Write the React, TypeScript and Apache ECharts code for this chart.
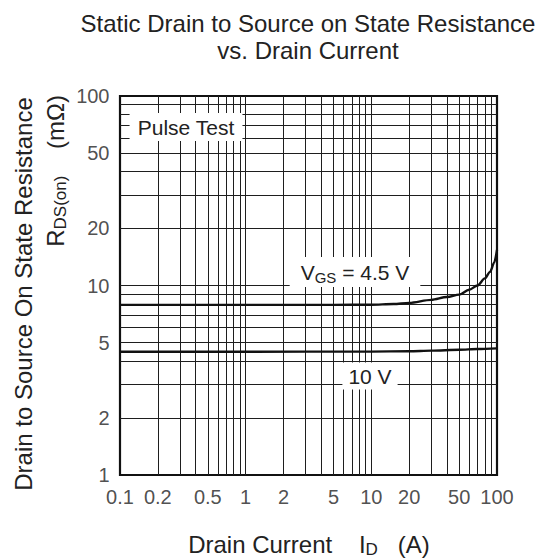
import React, { useEffect, useRef } from 'react';
import * as echarts from 'echarts';

// ---- data ----
const current45 = [0.1, 1, 5, 10, 15, 20, 30, 40, 50, 60, 70, 80, 88, 95, 100];
const rds45 = [7.9, 7.9, 7.9, 7.92, 7.98, 8.1, 8.4, 8.7, 8.95, 9.5, 10.0, 10.9, 11.8, 13.2, 15.4];
const current10 = [0.1, 1, 10, 20, 30, 50, 70, 100];
const rds10 = [4.47, 4.47, 4.48, 4.5, 4.53, 4.58, 4.62, 4.66];

const xTickValues = [0.1, 0.2, 0.5, 1, 2, 5, 10, 20, 50, 100];
const xTickLabels = ['0.1', '0.2', '0.5', '1', '2', '5', '10', '20', '50', '100'];
const yTickValues = [1, 2, 5, 10, 20, 50, 100];
const yTickLabels = ['1', '2', '5', '10', '20', '50', '100'];

const xGridValues = [
  0.2, 0.3, 0.4, 0.5, 0.6, 0.7, 0.8, 0.9, 1,
  2, 3, 4, 5, 6, 7, 8, 9, 10,
  20, 30, 40, 50, 60, 70, 80, 90,
];
const yGridValues = [2, 3, 4, 5, 6, 7, 8, 9, 10, 20, 30, 40, 50, 60, 70, 80, 90];

const FONT = '"Liberation Sans", Arial, Helvetica, sans-serif';
const INK = '#222';

export default function App() {
  const ref = useRef<HTMLDivElement>(null);

  useEffect(() => {
    document.body.style.margin = '0';
    if (!ref.current) return;
    const chart = echarts.init(ref.current, undefined, { renderer: 'svg' });

    const gridLineStyle = { color: '#1e1e1e', width: 1, type: 'solid' as const };

    const option: any = {
      animation: false,
      backgroundColor: '#fff',
      grid: {
        left: 120,
        right: 52,
        top: 96,
        bottom: 84,
        show: true,
        borderColor: '#111',
        borderWidth: 2.2,
        backgroundColor: 'transparent',
        outerBoundsMode: 'none',
        containLabel: false,
      },
      xAxis: {
        type: 'log',
        logBase: 10,
        min: 0.1,
        max: 100,
        axisLine: { show: false },
        axisTick: { show: false },
        axisLabel: { show: false },
        splitLine: { show: false },
        minorTick: { show: false },
        minorSplitLine: { show: false },
      },
      yAxis: {
        type: 'log',
        logBase: 10,
        min: 1,
        max: 100,
        axisLine: { show: false },
        axisTick: { show: false },
        axisLabel: { show: false },
        splitLine: { show: false },
        minorTick: { show: false },
        minorSplitLine: { show: false },
      },
      series: [
        {
          type: 'line',
          name: 'grid',
          silent: true,
          data: [[0.1, 1]],
          showSymbol: false,
          symbol: 'none',
          lineStyle: { opacity: 0 },
          z: 1,
          markLine: {
            silent: true,
            symbol: ['none', 'none'],
            label: { show: false },
            lineStyle: gridLineStyle,
            emphasis: { disabled: true },
            animation: false,
            data: [
              ...xGridValues.map((v) => ({ xAxis: v })),
              ...yGridValues.map((v) => ({ yAxis: v })),
            ],
          },
        },
        {
          type: 'line',
          name: 'VGS 4.5V',
          data: current45.map((x, i) => [x, rds45[i]]),
          smooth: 0.3,
          smoothMonotone: 'x',
          showSymbol: false,
          symbol: 'none',
          lineStyle: { color: '#111', width: 2.4 },
          z: 10,
          silent: true,
        },
        {
          type: 'line',
          name: 'VGS 10V',
          data: current10.map((x, i) => [x, rds10[i]]),
          smooth: 0.3,
          smoothMonotone: 'x',
          showSymbol: false,
          symbol: 'none',
          lineStyle: { color: '#111', width: 2.4 },
          z: 10,
          silent: true,
        },
        {
          type: 'scatter',
          name: 'xTicks',
          silent: true,
          clip: false,
          symbolSize: 1,
          itemStyle: { color: 'rgba(0,0,0,0)' },
          data: xTickValues.map((v) => [v, 1]),
          label: {
            show: true,
            position: 'bottom',
            distance: 11,
            formatter: (p: any) => xTickLabels[p.dataIndex],
            color: INK,
            fontSize: 20,
            fontFamily: FONT,
          },
          z: 20,
        },
        {
          type: 'scatter',
          name: 'yTicks',
          silent: true,
          clip: false,
          symbolSize: 1,
          itemStyle: { color: 'rgba(0,0,0,0)' },
          data: yTickValues.map((v) => [0.1, v]),
          label: {
            show: true,
            position: 'left',
            distance: 10,
            formatter: (p: any) => yTickLabels[p.dataIndex],
            color: INK,
            fontSize: 20,
            fontFamily: FONT,
          },
          z: 20,
        },
      ],
      graphic: [
        {
          type: 'text',
          x: 308,
          y: 23,
          z: 50,
          style: {
            text: 'Static Drain to Source on State Resistance',
            fill: INK,
            fontSize: 24,
            fontFamily: FONT,
            align: 'center',
            verticalAlign: 'middle',
          },
        },
        {
          type: 'text',
          x: 308,
          y: 50,
          z: 50,
          style: {
            text: 'vs. Drain Current',
            fill: INK,
            fontSize: 24,
            fontFamily: FONT,
            align: 'center',
            verticalAlign: 'middle',
          },
        },
        {
          type: 'text',
          x: 23,
          y: 294,
          rotation: Math.PI / 2,
          z: 50,
          style: {
            text: 'Drain to Source On State Resistance',
            fill: INK,
            fontSize: 24,
            fontFamily: FONT,
            align: 'center',
            verticalAlign: 'middle',
          },
        },
        {
          type: 'text',
          x: 55,
          y: 95,
          rotation: Math.PI / 2,
          z: 50,
          style: {
            text: '{a|R}{s|DS(on)}{a|    (mΩ)}',
            fill: INK,
            fontFamily: FONT,
            align: 'right',
            verticalAlign: 'middle',
            rich: {
              a: { fontSize: 24, lineHeight: 28, fill: INK, fontFamily: FONT },
              s: { fontSize: 17, lineHeight: 11, verticalAlign: 'bottom', fill: INK, fontFamily: FONT },
            },
          },
        },
        {
          type: 'text',
          x: 309,
          y: 544,
          z: 50,
          style: {
            text: '{a|Drain Current    I}{s|D}{a|   (A)}',
            fill: INK,
            fontFamily: FONT,
            align: 'center',
            verticalAlign: 'middle',
            rich: {
              a: { fontSize: 24, lineHeight: 28, fill: INK, fontFamily: FONT },
              s: { fontSize: 17, lineHeight: 11, verticalAlign: 'bottom', fill: INK, fontFamily: FONT },
            },
          },
        },
        {
          type: 'text',
          x: 186,
          y: 127,
          z: 60,
          style: {
            text: 'Pulse Test',
            fill: INK,
            fontSize: 21,
            fontFamily: FONT,
            align: 'center',
            verticalAlign: 'middle',
            backgroundColor: '#fff',
            padding: [3, 8, 3, 8],
            lineHeight: 22,
          },
        },
        {
          type: 'text',
          x: 355,
          y: 272,
          z: 60,
          style: {
            text: '{a|V}{s|GS}{a| = 4.5 V}',
            fill: INK,
            fontFamily: FONT,
            align: 'center',
            verticalAlign: 'middle',
            backgroundColor: '#fff',
            padding: [2, 11, 2, 11],
            rich: {
              a: { fontSize: 21, lineHeight: 26, fill: INK, fontFamily: FONT },
              s: { fontSize: 15, lineHeight: 10, verticalAlign: 'bottom', fill: INK, fontFamily: FONT },
            },
          },
        },
        {
          type: 'text',
          x: 370,
          y: 376,
          z: 60,
          style: {
            text: '10 V',
            fill: INK,
            fontSize: 21,
            fontFamily: FONT,
            align: 'center',
            verticalAlign: 'middle',
            backgroundColor: '#fff',
            padding: [3, 6, 3, 6],
            lineHeight: 21,
          },
        },
      ],
    };

    chart.setOption(option);
    return () => chart.dispose();
  }, []);

  return <div ref={ref} style={{ width: 549, height: 559 }} />;
}
